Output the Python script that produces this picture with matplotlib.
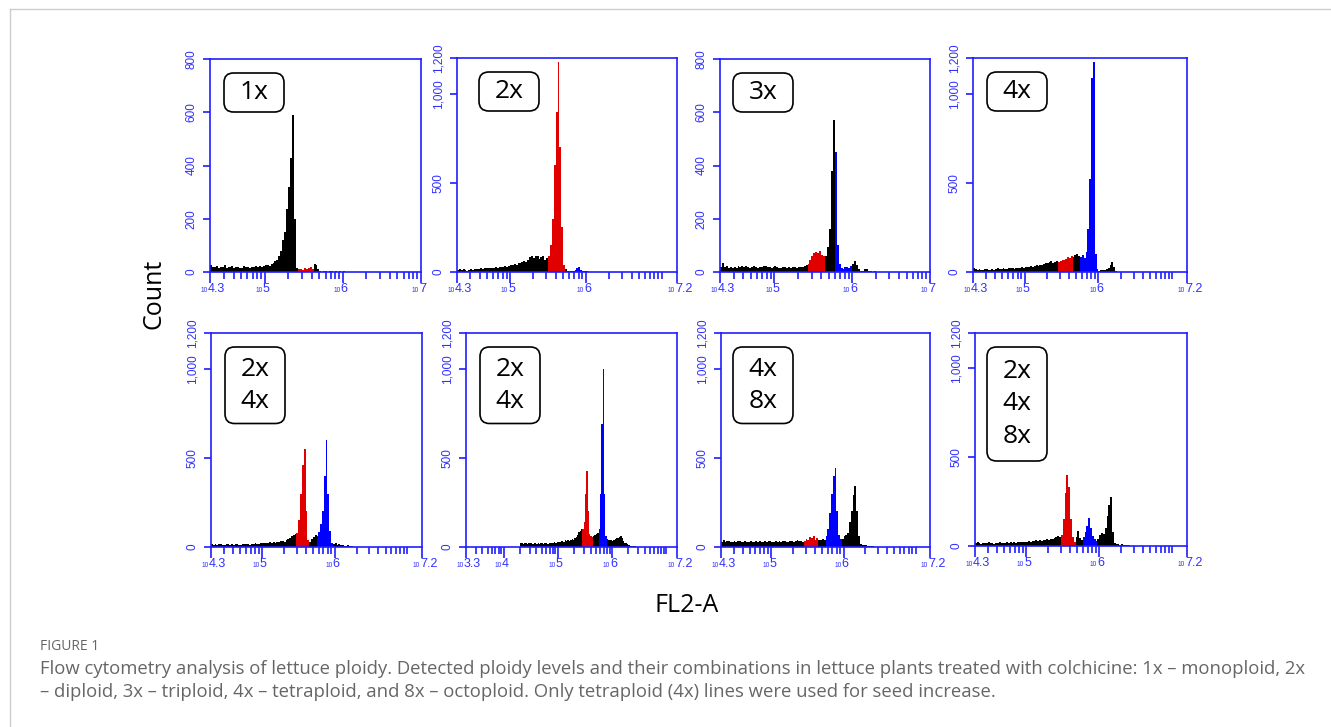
import numpy as np
import matplotlib.pyplot as plt
from matplotlib.patches import FancyBboxPatch
from matplotlib.lines import Line2D
from matplotlib.ticker import FixedLocator, NullFormatter

plt.rcParams['font.family'] = ['Open Sans', 'DejaVu Sans']

# histogram bins are in log10(FL2-A), all panels start at 10^4.3
bin_start = 4.3
bin_width = 0.025

labels = ['1x', '2x', '3x', '4x', '2x\n4x', '2x\n4x', '4x\n8x', '2x\n4x\n8x']

counts_1x = [25, 20, 18, 22, 15, 20, 18, 28, 16, 20, 18, 22, 14, 18, 20, 16, 15, 22, 20, 18, 15, 17,
             20, 22, 18, 24, 20, 22, 25, 28, 24, 30, 35, 40,
             45, 60, 80, 120, 150, 235, 320, 430, 590, 200, 15,
             10, 12, 8, 14, 12, 15, 18, 12,
             30, 25, 10, 5,
             0, 3, 2, 0, 4, 2, 0, 3, 0, 2, 0,
             3, 0]
counts_2x = [10, 15, 12, 18, 10, 8, 12, 15, 14, 16, 18, 15, 20, 18, 22, 20,
             22, 25, 20, 24, 26, 25, 28, 30, 26, 32, 30, 35,
             38, 40, 45, 42, 50, 48, 55, 60, 58, 65,
             85, 90, 80, 88, 92, 75, 85, 90, 70, 80,
             90, 150, 300, 600, 900, 1180, 700, 250, 40,
             15, 8, 6, 5, 8,
             12, 25, 28, 10,
             5, 3, 4, 2]
counts_3x = [20, 35, 18, 22, 15, 18, 14, 20, 16, 22,
             18, 24, 20, 22, 18, 16, 20, 22, 18, 15,
             20, 18, 22, 24, 20, 18, 16, 20, 22, 18,
             14, 16, 18, 20, 15, 18, 16, 20, 18, 15,
             17, 20, 18, 22, 25,
             30, 45, 60, 70, 75, 72, 78, 65, 60,
             60, 95, 160, 380, 570,
             450, 100, 30, 15, 12, 18, 20, 15, 22,
             30, 40, 25, 10, 5, 3, 10, 12, 4, 2, 0, 4]
counts_4x = [20, 15, 12, 16, 14, 12, 15, 18, 14, 12,
             16, 14, 18, 20, 15, 17, 20, 18, 16, 22,
             20, 22, 18, 24, 25, 22, 26, 24, 28, 30,
             28, 32, 30, 35, 38, 34, 40, 42, 45, 50,
             48, 55, 60, 52, 58, 62,
             55, 60, 70, 65, 75, 85, 80, 90,
             85, 95, 100, 90,
             85, 95, 80, 110, 240, 520, 1090, 1180, 100, 15,
             8, 10, 12, 10, 15, 20, 40, 55, 30, 5, 2]
counts_2x4x_a = [18, 14, 16, 12, 15, 18, 14, 12, 16, 15,
                 13, 16, 14, 18, 15, 12, 14, 16, 18, 15,
                 17, 14, 16, 18, 20, 16, 18, 20, 22,
                 20, 24, 22, 26, 25, 28, 24, 30, 28, 32, 35, 30, 38, 45,
                 50, 60, 70, 75,
                 80, 150, 300, 460, 550, 200, 40,
                 30, 45, 55, 70,
                 60, 85, 130, 200, 400, 598, 300, 90, 20,
                 15, 20, 12, 18, 10, 14, 8, 5, 10, 6, 3, 2]
counts_2x4x_b = [22, 25, 18, 20, 24, 16, 22, 20, 25, 18,
                 20, 22, 18, 24, 16, 20, 22, 18, 20, 24,
                 18, 22, 20, 24, 22, 26, 24, 28,
                 30, 28, 32, 35, 30, 38, 34, 40, 36, 42, 45, 40, 48, 55,
                 70, 85, 90, 100,
                 100, 140, 300, 428, 200, 75, 60, 55,
                 62, 70, 75, 80,
                 100, 300, 690, 1000, 300, 60,
                 45, 40, 42, 38, 35, 40, 45, 50, 52, 55, 60, 50, 35, 25, 20, 15, 12, 8, 6, 4, 6, 3]
counts_4x8x = [30, 38, 28, 35, 32, 26, 30, 34, 28, 32,
               36, 30, 28, 32, 26, 30, 35, 28, 30, 33,
               29, 34, 27, 30, 32, 28, 31, 35, 30, 28,
               33, 30, 36, 29, 32, 34, 30, 28, 35, 32,
               30, 34, 38, 32, 35, 30,
               35, 45, 40, 55, 48, 60, 42, 50,
               40, 38, 45, 42,
               60, 100, 190, 300, 400, 445, 200, 70, 45,
               45, 60, 70, 80, 140, 200, 290, 343, 200, 60, 15, 12, 10, 12, 8, 5, 6, 3]
counts_2x4x8x = [15, 20, 16, 14, 18, 15, 17, 20, 16, 18,
                 14, 18, 16, 20, 17, 15, 19, 22, 18, 20,
                 17, 21, 19, 22, 20, 24, 21, 23,
                 25, 28, 24, 30, 27, 32, 29, 34, 30, 36, 33, 38, 35, 40, 42,
                 45, 50, 55, 48,
                 60, 150, 300, 400, 330, 150, 50, 20,
                 50, 85, 45, 35,
                 50, 80, 110, 160, 100, 55, 40, 30,
                 40, 60, 75, 70, 100, 170, 230, 276, 80, 15, 10, 12, 8, 10, 6, 5, 8, 4, 2]

counts = [counts_1x, counts_2x, counts_3x, counts_4x,
          counts_2x4x_a, counts_2x4x_b, counts_4x8x, counts_2x4x8x]

# gates (log10 FL2-A) coloured red and blue
red_gates = [(5.425, 5.625), (5.5, 5.725), (5.425, 5.65), (5.45, 5.65),
             (5.475, 5.65), (5.45, 5.65), (5.45, 5.65), (5.475, 5.675)]
blue_gates = [(5.725, 6.0), (5.85, 5.95), (5.775, 6.0), (5.75, 6.0),
              (5.75, 5.975), (5.75, 5.9), (5.75, 5.975), (5.775, 5.975)]

x_ranges = [(4.3, 7.0), (4.3, 7.2), (4.3, 7.0), (4.3, 7.2),
            (4.3, 7.2), (3.3, 7.2), (4.3, 7.2), (4.3, 7.2)]
x_major = [[4.3, 5, 6, 7], [4.3, 5, 6, 7.2], [4.3, 5, 6, 7], [4.3, 5, 6, 7.2],
           [4.3, 5, 6, 7.2], [3.3, 4, 5, 6, 7.2], [4.3, 5, 6, 7.2], [4.3, 5, 6, 7.2]]
y_ticks = [[0, 200, 400, 600, 800], [0, 500, 1000, 1200], [0, 200, 400, 600, 800], [0, 500, 1000, 1200],
           [0, 500, 1000, 1200], [0, 500, 1000, 1200], [0, 500, 1000, 1200], [0, 500, 1000, 1200]]

# layout in pixels (left, top, right, bottom)
W, H = 1331, 727
axes_px = [(210, 59, 421, 272), (457, 58, 677, 272), (720, 59, 930, 272), (973, 58, 1187, 272),
           (211, 333, 422, 547), (466, 333, 677, 547), (721, 333, 930, 547), (975, 333, 1187, 546)]
box_dx = [14, 22, 13, 14, 14, 14, 12, 12]

axis_blue = '#1f1fff'
label_blue = '#3030ff'

fig = plt.figure(figsize=(W / 100, H / 100), dpi=100)

for k in range(8):
    l, t, r, b = axes_px[k]
    aw, ah = r - l, b - t
    ax = fig.add_axes([l / W, 1 - b / H, aw / W, ah / H])

    c = np.array(counts[k], dtype=float)
    edges = bin_start + bin_width * np.arange(len(c) + 1)
    centres = edges[:-1] + bin_width / 2
    red = (centres >= red_gates[k][0]) & (centres < red_gates[k][1])
    blue = (centres >= blue_gates[k][0]) & (centres < blue_gates[k][1])
    black = ~(red | blue)
    for mask, col in ((black, 'black'), (red, '#e00000'), (blue, '#0000ff')):
        ax.stairs(np.where(mask, c, 0), 10 ** edges, fill=True, color=col, lw=0)

    ax.set_xscale('log')
    x0, x1 = x_ranges[k]
    ax.set_xlim(10 ** x0, 10 ** x1)
    ax.set_ylim(0, y_ticks[k][-1])

    ax.set_xticks([10 ** e for e in x_major[k]])
    ax.set_xticklabels([])
    minors = [m * 10 ** n for n in range(3, 7) for m in range(2, 10)] + [1e7]
    minors = [v for v in minors
              if x0 < np.log10(v) < x1 and min(abs(np.log10(v) - e) for e in x_major[k]) > 0.01]
    ax.xaxis.set_minor_locator(FixedLocator(minors))
    ax.xaxis.set_minor_formatter(NullFormatter())
    ax.tick_params(axis='x', which='major', direction='out', length=8, width=1.2, color=axis_blue)
    ax.tick_params(axis='x', which='minor', direction='out', length=5, width=1.2, color=axis_blue)

    ax.set_yticks(y_ticks[k])
    ax.set_yticklabels(['{:,}'.format(v) for v in y_ticks[k]], rotation=90, va='center')
    ax.tick_params(axis='y', direction='out', length=5, width=1.2, pad=4, color=axis_blue,
                   labelsize=8.5, labelcolor=label_blue, labelfontfamily='Liberation Sans')

    for s in ax.spines.values():
        s.set_color(axis_blue)
        s.set_linewidth(1.2)

    for e in x_major[k]:
        ax.annotate('10', xy=(10 ** e, 0), xycoords=('data', 'axes fraction'), xytext=(-2, -20),
                    textcoords='offset pixels', ha='right', va='baseline', fontsize=4.8,
                    color=label_blue, family='Liberation Sans', annotation_clip=False)
        ax.annotate('%g' % e, xy=(10 ** e, 0), xycoords=('data', 'axes fraction'), xytext=(-2, -20),
                    textcoords='offset pixels', ha='left', va='baseline', fontsize=9,
                    color=label_blue, family='Liberation Sans', annotation_clip=False)

    # ploidy label box
    n = labels[k].count('\n') + 1
    bw = 60 / aw
    bh = (39 + 37.5 * (n - 1)) / ah
    bx = box_dx[k] / aw
    by = 1 - 14 / ah - bh
    ax.add_patch(FancyBboxPatch((bx, by), bw, bh, boxstyle='round,pad=0,rounding_size=0.045',
                                transform=ax.transAxes, fc='white', ec='black', lw=1.2, zorder=5))
    ax.text(bx + bw / 2, by + bh / 2, labels[k], transform=ax.transAxes, ha='center', va='center',
            fontsize=19, linespacing=1.38, zorder=6)

fig.text(154 / W, 1 - 294 / H, 'Count', rotation=90, fontsize=18, ha='center', va='center')
fig.text(687 / W, 1 - 606 / H, 'FL2-A', fontsize=18, ha='center', va='center')

fig.text(40 / W, 1 - 647 / H, 'FIGURE 1', fontsize=10, color='#666666', ha='left', va='center')
fig.text(40 / W, 1 - 669 / H,
         'Flow cytometry analysis of lettuce ploidy. Detected ploidy levels and their combinations in lettuce '
         'plants treated with colchicine: 1x \u2013 monoploid, 2x',
         fontsize=13.3, color='#666666', ha='left', va='center')
fig.text(40 / W, 1 - 692 / H,
         '\u2013 diploid, 3x \u2013 triploid, 4x \u2013 tetraploid, and 8x \u2013 octoploid. '
         'Only tetraploid (4x) lines were used for seed increase.',
         fontsize=13.3, color='#666666', ha='left', va='center')

fig.add_artist(Line2D([10 / W, 10 / W], [0, 1 - 9 / H], color='#cccccc', lw=1))
fig.add_artist(Line2D([10 / W, 1], [1 - 9 / H, 1 - 9 / H], color='#cccccc', lw=1))

plt.savefig('out.png', dpi=100)
